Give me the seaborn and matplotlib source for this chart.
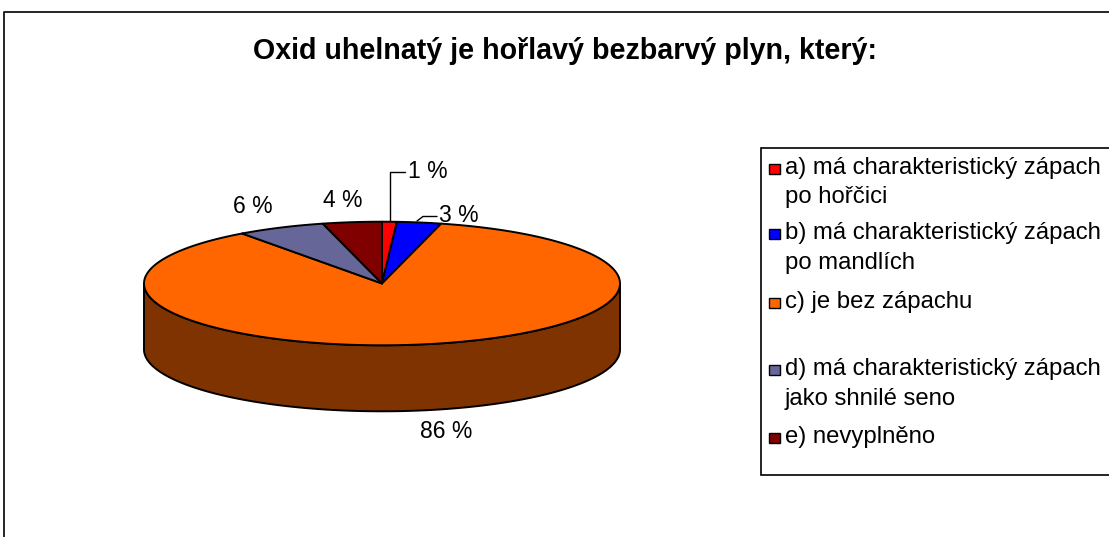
import numpy as np
import matplotlib
matplotlib.use("Agg")
import matplotlib.pyplot as plt
from matplotlib.patches import Polygon, Rectangle
import seaborn as sns

sns.set_theme(style="white")
plt.rcParams['font.family'] = ['Liberation Sans', 'DejaVu Sans']
plt.rcParams['text.color'] = 'black'

# Survey answers (percent) and their presentation
categories = [
    "a) má charakteristický zápach\npo hořčici",
    "b) má charakteristický zápach\npo mandlích",
    "c) je bez zápachu",
    "d) má charakteristický zápach\njako shnilé seno",
    "e) nevyplněno",
]
values = [1, 3, 86, 6, 4]
value_labels = ["1 %", "3 %", "86 %", "6 %", "4 %"]
title = "Oxid uhelnatý je hořlavý bezbarvý plyn, který:"

top_colors = sns.color_palette(["#FF0000", "#0000FF", "#FF6600", "#666699", "#800000"])
side_colors = sns.color_palette(["#800000", "#000080", "#7F3300", "#333366", "#400000"])

W, H = 1109, 537
fig = plt.figure(figsize=(W / 100, H / 100), dpi=100)
ax = fig.add_axes([0, 0, 1, 1])
ax.set_xlim(0, W)
ax.set_ylim(H, 0)
ax.axis("off")

# chart frame
ax.plot([3.5, 3.5, W + 5], [H + 5, 11.5, 11.5], color="black", lw=1.2)

ax.text(565, 59, title, ha="center", va="baseline", fontsize=20.6, fontweight="bold")

# 3D pie geometry (pixels)
cx, cy, rx, ry, depth = 382, 283.5, 238, 61.8, 66


def rim(t0, t1, n=200, dy=0.0):
    t = np.radians(np.linspace(t0, t1, n))
    return np.column_stack([cx + rx * np.sin(t), cy - ry * np.cos(t) + dy])


fractions = np.array(values, dtype=float) / sum(values)
bounds = np.concatenate([[0], np.cumsum(fractions) * 360])

# side walls: only the front half (90..270 deg) is visible
for i in range(len(values)):
    a0, a1 = max(bounds[i], 90), min(bounds[i + 1], 270)
    if a1 <= a0:
        continue
    top = rim(a0, a1)
    bot = rim(a1, a0, dy=depth)
    ax.add_patch(Polygon(np.vstack([top, bot]), closed=True,
                         facecolor=side_colors[i], edgecolor="black", lw=1.4,
                         joinstyle="round"))

# top faces
for i in range(len(values)):
    pts = np.vstack([[cx, cy], rim(bounds[i], bounds[i + 1])])
    ax.add_patch(Polygon(pts, closed=True, facecolor=top_colors[i],
                         edgecolor="black", lw=1.4, joinstyle="round"))

# value labels (x centre, baseline)
lab_fs = 16.5
label_pos = [(428, 178), (459, 222), (446, 438), (253, 213), (343, 207)]
for (x, y), s in zip(label_pos, value_labels):
    ax.text(x, y, s, ha="center", va="baseline", fontsize=lab_fs)
# leader lines for the narrow slices
ax.plot([390, 390, 405], [221, 172, 172], color="black", lw=1)
ax.plot([417, 423, 437], [221, 216.5, 216.5], color="black", lw=1)

# legend
leg_fs = 17.2
ax.add_patch(Rectangle((760.5, 147.5), W, 327.5, facecolor="white",
                       edgecolor="black", lw=1.2))
leg_base = [174, 239, 308, 375, 443]
for i, (y, lab) in enumerate(zip(leg_base, categories)):
    ax.add_patch(Rectangle((769, y - 10.5), 10.5, 10.5, facecolor=top_colors[i],
                           edgecolor="black", lw=1))
    for k, line in enumerate(lab.split("\n")):
        ax.text(785, y + k * 29.5, line, ha="left", va="baseline", fontsize=leg_fs)

fig.savefig("out.png", dpi=100, facecolor="white")
